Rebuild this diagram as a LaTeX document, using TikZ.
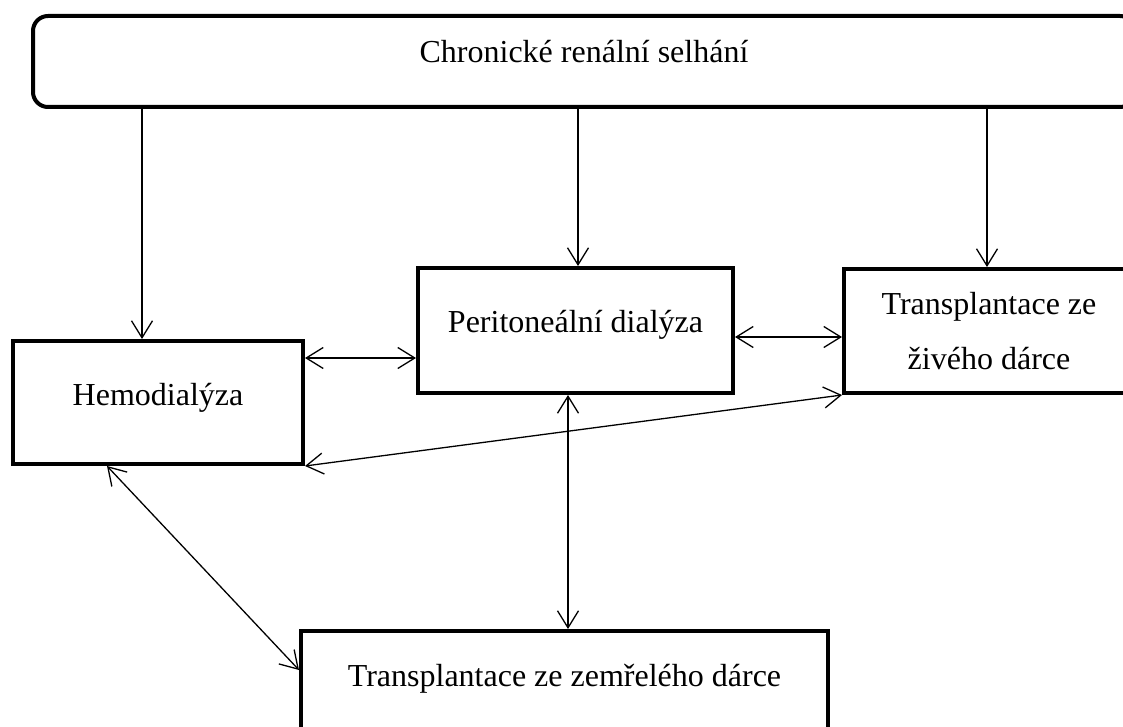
\documentclass[tikz,border=0pt]{standalone}
\usepackage{fontspec}
\setmainfont{Liberation Serif}
\usetikzlibrary{arrows.meta}
\begin{document}
\begin{tikzpicture}[x=1pt,y=-1pt,
 box/.style={draw,line width=4pt,inner sep=0pt,font=\fontsize{32}{55}\selectfont},
 link/.style={line width=1.3pt,-{Straight Barb[length=17pt,width=21pt]}},
 dlink/.style={line width=1.3pt,{Straight Barb[length=17pt,width=21pt]}-{Straight Barb[length=17pt,width=21pt]}}]
\useasboundingbox (0,0) rectangle (1123,727);
\clip (0,0) rectangle (1123,727);
\node[box,rounded corners=15pt,minimum width=1102pt,text height=47pt,text depth=44pt] (top) at (584,61.5) {Chronické renální selhání};
\node[box,minimum width=290pt,text height=64pt,text depth=59pt] (hemo) at (158,402.5) {Hemodialýza};
\node[box,minimum width=315pt,text height=64pt,text depth=61pt] (peri) at (575.5,330.5) {Peritoneální dialýza};
\node[box,minimum width=290pt,minimum height=124pt,align=center] (zive) at (989,331) {Transplantace ze\\živého dárce};
\node[box,minimum width=527pt,text height=55pt,text depth=120pt] (zem) at (564.5,718.5) {Transplantace ze zemřelého dárce};
% top arrows
\coordinate (ah) at ([xshift=-16pt]hemo.north);
\coordinate (ap) at ([xshift=2.5pt]peri.north);
\coordinate (az) at ([xshift=-2pt]zive.north);
\draw[link] (top.south -| ah) -- (ah);
\draw[link] (top.south -| ap) -- (ap);
\draw[link] (top.south -| az) -- (az);
% horizontal links
\coordinate (hp) at ([yshift=44.5pt]hemo.east);
\draw[dlink] (hp) -- (peri.west |- hp);
\coordinate (pz) at ([yshift=-6.5pt]peri.east);
\draw[dlink] (pz) -- (zive.west |- pz);
% diagonal hemo - zive
\draw[dlink] (hemo.south east) -- (zive.south west);
% hemo - zem
\coordinate (hz1) at ([xshift=-51pt]hemo.south);
\coordinate (hz2) at ([yshift=-41pt]zem.north west);
\draw[dlink] (hz1) -- (hz2);
% peri - zem
\coordinate (pm) at ([xshift=-7.5pt]peri.south);
\draw[dlink] (pm) -- (zem.north -| pm);
\end{tikzpicture}
\end{document}
